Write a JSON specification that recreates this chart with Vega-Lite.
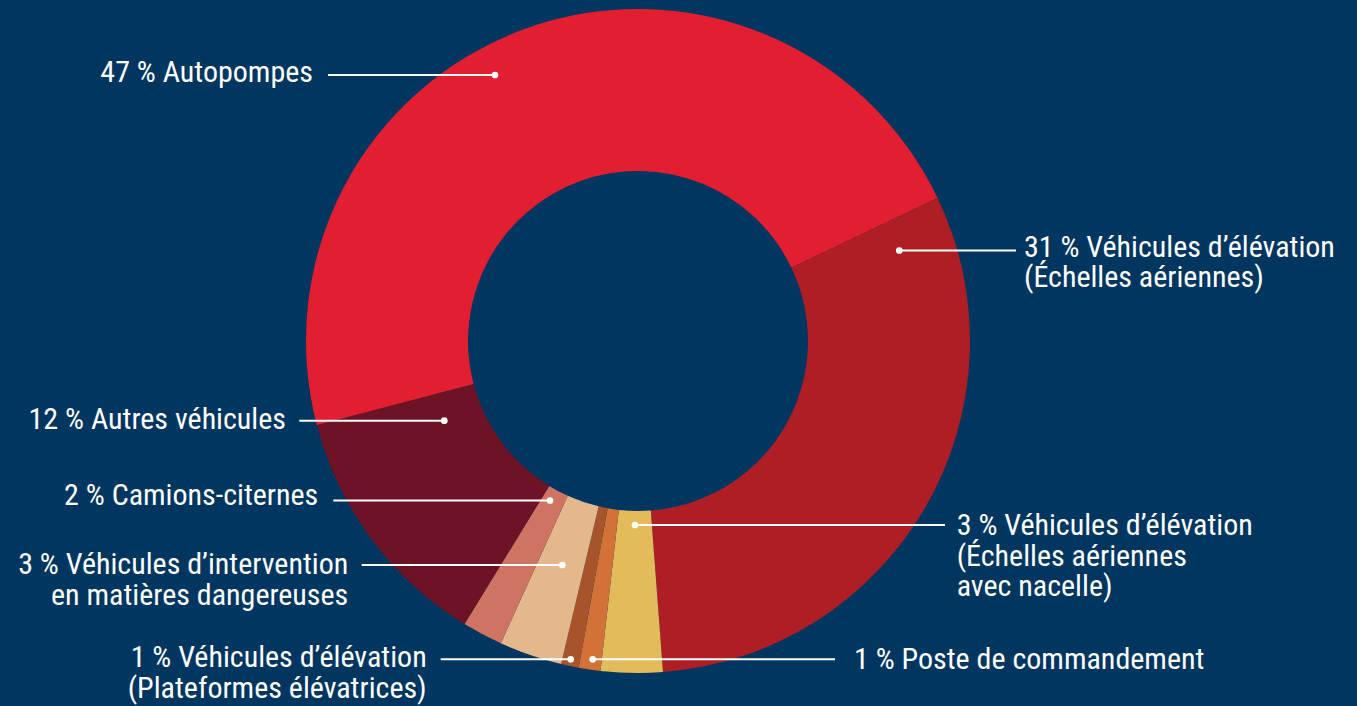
{
  "$schema": "https://vega.github.io/schema/vega-lite/v6.json",
  "width": 1357,
  "height": 706,
  "autosize": {"type": "fit", "contains": "padding"},
  "padding": 0,
  "background": "#003660",
  "config": {"view": {"stroke": null}},
  "datasets": {
    "slices": [
      {"order": 1, "category": "Autopompes", "value": 47.0},
      {"order": 2, "category": "Véhicules d’élévation (Échelles aériennes)", "value": 30.9},
      {"order": 3, "category": "Véhicules d’élévation (Échelles aériennes avec nacelle)", "value": 3.0},
      {"order": 4, "category": "Poste de commandement", "value": 1.06},
      {"order": 5, "category": "Véhicules d’élévation (Plateformes élévatrices)", "value": 0.86},
      {"order": 6, "category": "Véhicules d’intervention en matières dangereuses", "value": 3.06},
      {"order": 7, "category": "Camions-citernes", "value": 1.97},
      {"order": 8, "category": "Autres véhicules", "value": 12.17}
    ],
    "labels": [
      {"category": "Autopompes", "side": "left", "dotX": -143, "dotY": 266, "lineX": -310, "textX": -325, "textY": 259.3, "text": ["47 % Autopompes"]},
      {"category": "Véhicules d’élévation (Échelles aériennes)", "side": "right", "dotX": 261.3, "dotY": 90.5, "lineX": 378, "textX": 386, "textY": 84.3, "text": ["31 % Véhicules d’élévation", "(Échelles aériennes)"]},
      {"category": "Autres véhicules", "side": "left", "dotX": -193.7, "dotY": -79.7, "lineX": -338.7, "textX": -352, "textY": -88.3, "text": ["12 % Autres véhicules"]},
      {"category": "Camions-citernes", "side": "left", "dotX": -88, "dotY": -159.5, "lineX": -304.7, "textX": -319.7, "textY": -164, "text": ["2 % Camions-citernes"]},
      {"category": "Véhicules d’intervention en matières dangereuses", "side": "left", "dotX": -75.7, "dotY": -224, "lineX": -276.3, "textX": -289.7, "textY": -233.3, "text": ["3 % Véhicules d’intervention", "en matières dangereuses"]},
      {"category": "Véhicules d’élévation (Plateformes élévatrices)", "side": "left", "dotX": -67.3, "dotY": -318.3, "lineX": -197.3, "textX": -211.3, "textY": -326.3, "text": ["1 % Véhicules d’élévation", "(Plateformes élévatrices)"]},
      {"category": "Poste de commandement", "side": "right", "dotX": -45.3, "dotY": -318.3, "lineX": 197, "textX": 216, "textY": -328.3, "text": ["1 % Poste de commandement"]},
      {"category": "Véhicules d’élévation (Échelles aériennes avec nacelle)", "side": "right", "dotX": -3, "dotY": -184, "lineX": 307, "textX": 318.7, "textY": -194, "text": ["3 % Véhicules d’élévation", "(Échelles aériennes", "avec nacelle)"]}
    ]
  },
  "layer": [
    {
      "data": {"name": "slices"},
      "mark": {"type": "arc", "radius": 332, "radius2": 170},
      "encoding": {
        "theta": {"field": "value", "type": "quantitative", "stack": true, "scale": {"range": [4.4559, 10.7391]}},
        "order": {"field": "order", "type": "quantitative"},
        "color": {
          "field": "category", "type": "nominal", "legend": null,
          "scale": {
            "domain": ["Autopompes", "Véhicules d’élévation (Échelles aériennes)", "Véhicules d’élévation (Échelles aériennes avec nacelle)", "Poste de commandement", "Véhicules d’élévation (Plateformes élévatrices)", "Véhicules d’intervention en matières dangereuses", "Camions-citernes", "Autres véhicules"],
            "range": ["#E31E30", "#AE1E24", "#E2BC5A", "#D27238", "#A9532B", "#E4B78C", "#CF7362", "#6E1326"]
          }
        },
        "x": {"datum": 0, "type": "quantitative", "axis": null, "scale": {"domain": [-638, 719], "nice": false, "zero": false}},
        "y": {"datum": 0, "type": "quantitative", "axis": null, "scale": {"domain": [-365, 341], "nice": false, "zero": false}}
      }
    },
    {
      "data": {"name": "labels"},
      "mark": {"type": "rule", "color": "white", "strokeWidth": 2},
      "encoding": {
        "x": {"field": "dotX", "type": "quantitative", "axis": null},
        "x2": {"field": "lineX"},
        "y": {"field": "dotY", "type": "quantitative", "axis": null}
      }
    },
    {
      "data": {"name": "labels"},
      "mark": {"type": "point", "filled": true, "color": "white", "opacity": 1, "size": 45},
      "encoding": {
        "x": {"field": "dotX", "type": "quantitative", "axis": null},
        "y": {"field": "dotY", "type": "quantitative", "axis": null}
      }
    },
    {
      "data": {"name": "labels"},
      "transform": [{"filter": "datum.side === 'left'"}],
      "mark": {"type": "text", "align": "right", "baseline": "alphabetic", "color": "white", "font": "Liberation Sans Narrow, Roboto Condensed, Arial Narrow, sans-serif", "fontSize": 30, "lineHeight": 30.5},
      "encoding": {
        "x": {"field": "textX", "type": "quantitative", "axis": null},
        "y": {"field": "textY", "type": "quantitative", "axis": null},
        "text": {"field": "text"}
      }
    },
    {
      "data": {"name": "labels"},
      "transform": [{"filter": "datum.side === 'right'"}],
      "mark": {"type": "text", "align": "left", "baseline": "alphabetic", "color": "white", "font": "Liberation Sans Narrow, Roboto Condensed, Arial Narrow, sans-serif", "fontSize": 30, "lineHeight": 30.5},
      "encoding": {
        "x": {"field": "textX", "type": "quantitative", "axis": null},
        "y": {"field": "textY", "type": "quantitative", "axis": null},
        "text": {"field": "text"}
      }
    }
  ]
}
